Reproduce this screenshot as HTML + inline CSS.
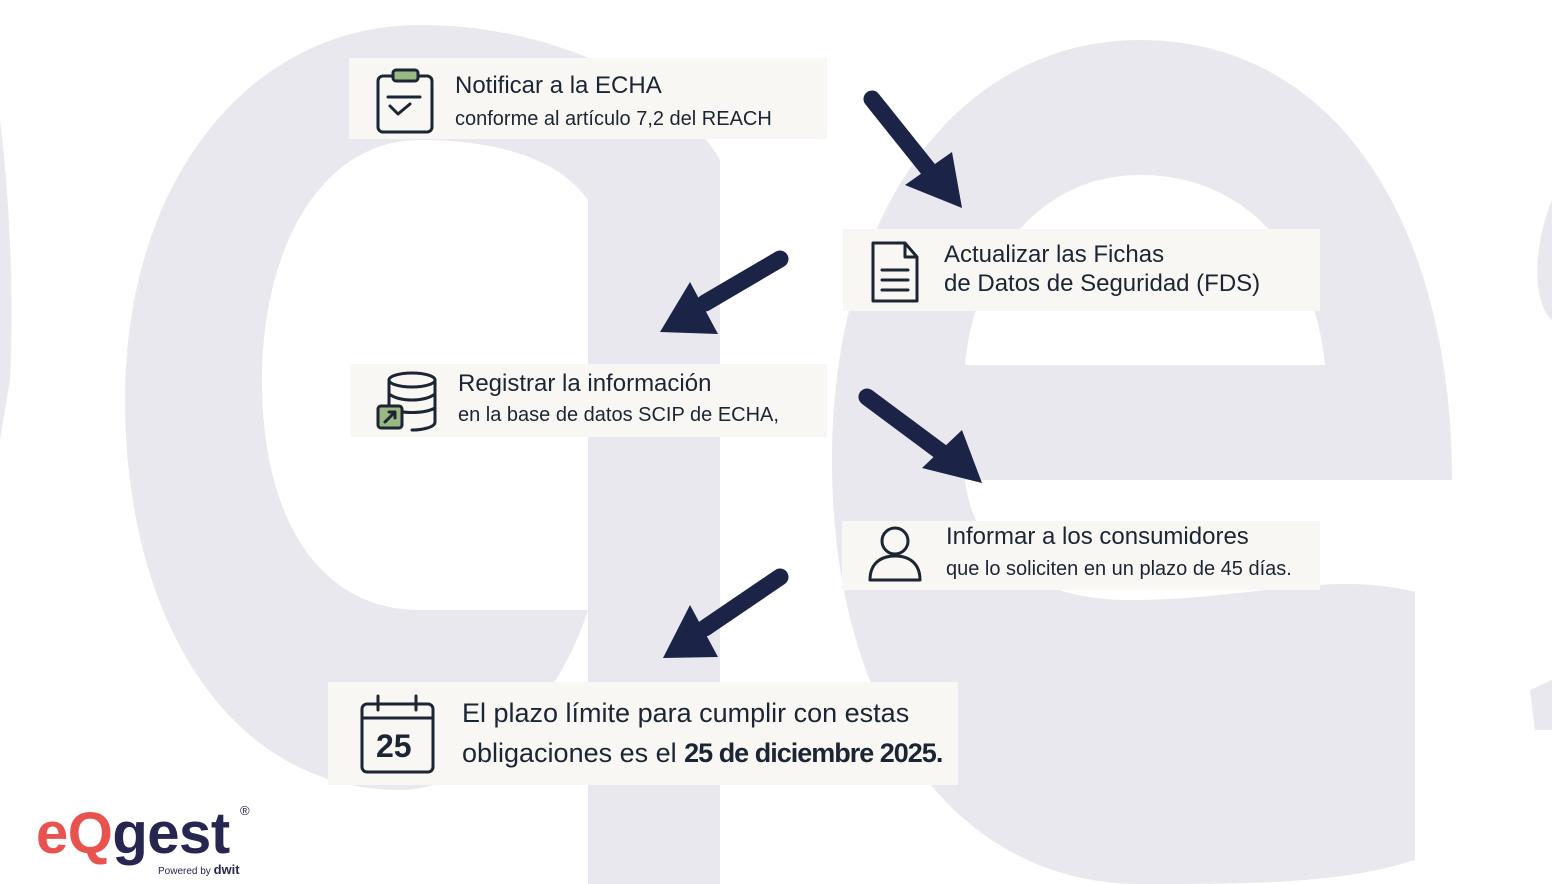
<!DOCTYPE html>
<html><head><meta charset="utf-8"><style>
body{margin:0;width:1552px;height:884px;overflow:hidden;background:#fff;font-family:"Liberation Sans",sans-serif;position:relative}
.box{position:absolute;background:#f8f7f3}
.t{position:absolute;color:#1c2533;white-space:nowrap}
svg{position:absolute;left:0;top:0}
</style></head><body>
<svg width="1552" height="884">
<g fill="#e9e8ee" fill-rule="evenodd">
<path d="M720 160 L720 884 L588 884 L588 610 C560 700 480 790 400 790 C230 790 125 620 125 400 C125 180 250 25 420 25 C560 25 680 90 720 160 Z M588 200 C560 160 500 140 420 140 C320 140 262 250 262 380 C262 520 320 610 420 610 L588 610 Z"/>
<path d="M1140 40 C1340 40 1452 230 1452 480 L965 480 C975 560 1040 600 1130 600 C1250 600 1330 570 1415 592 L1415 860 C1340 884 1250 884 1140 884 C960 884 832 720 832 460 C832 210 960 40 1140 40 Z M965 365 L1325 365 C1315 260 1250 175 1140 175 C1040 175 975 260 965 365 Z"/>
<path d="M0 120 C10 200 14 300 10 380 L0 440 Z"/>
<path d="M1552 200 C1535 240 1530 300 1552 320 Z M1530 690 L1552 680 L1552 730 L1535 730 Z"/>
</g>
<g stroke="#1b2447" stroke-width="17" stroke-linecap="round" fill="#1b2447">
<line x1="872" y1="99" x2="932" y2="174"/>
<line x1="780" y1="259" x2="705" y2="303"/>
<line x1="867" y1="397" x2="945" y2="455"/>
<line x1="780" y1="577" x2="705" y2="628"/>
</g>
<g fill="#1b2447">
<polygon points="905,185 952,152 962,208"/>
<polygon points="690,282 718,334 660,332"/>
<polygon points="922,468 962,430 982,483"/>
<polygon points="690,605 718,657 663,658"/>
</g>
</svg>
<div class="box" style="left:349px;top:58px;width:478px;height:81px"></div>
<div class="box" style="left:843px;top:229px;width:477px;height:82px"></div>
<div class="box" style="left:350px;top:364px;width:477px;height:73px"></div>
<div class="box" style="left:842px;top:521px;width:478px;height:69px"></div>
<div class="box" style="left:328px;top:682px;width:630px;height:103px"></div>
<svg width="1552" height="884" fill="none" stroke="#1c2533" stroke-width="3" stroke-linecap="round" stroke-linejoin="round">
<rect x="378" y="76" width="54" height="56" rx="5"/>
<rect x="393" y="70" width="25" height="11" rx="3" fill="#9ab982"/>
<line x1="388" y1="97" x2="420" y2="97"/>
<polyline points="390,106 398,114 410,104"/>
<path d="M873 243 L905 243 L917 257 L917 301 L873 301 Z M905 243 L905 257 L917 257"/>
<line x1="882" y1="270" x2="908" y2="270"/><line x1="882" y1="280" x2="908" y2="280"/><line x1="882" y1="290" x2="908" y2="290"/>
<ellipse cx="412" cy="380" rx="23" ry="7"/>
<path d="M389 380 L389 422 M435 380 L435 422 C435 428 420 430 412 430 M389 394 C400 402 424 402 435 394 M389 408 C400 414 424 414 435 408"/>
<rect x="378" y="406" width="24" height="22" rx="3" fill="#9ab982"/>
<path d="M385 422 L395 412 M389 412 L395 412 L395 418"/>
<circle cx="895" cy="541" r="13"/>
<path d="M870 580 C870 564 880 556 895 556 C910 556 920 564 920 580 Z"/>
<rect x="362" y="704" width="71" height="68" rx="5"/>
<line x1="362" y1="718" x2="433" y2="718"/><line x1="378" y1="696" x2="378" y2="710"/><line x1="416" y1="696" x2="416" y2="710"/>
</svg>
<div class="t" style="left:376px;top:728px;font-size:32px;font-weight:bold">25</div>
<div class="t" style="left:455px;top:72px;font-size:24px">Notificar a la ECHA</div>
<div class="t" style="left:455px;top:108px;font-size:20px">conforme al artículo 7,2 del REACH</div>
<div class="t" style="left:944px;top:240px;font-size:24px;line-height:29px">Actualizar las Fichas<br>de Datos de Seguridad (FDS)</div>
<div class="t" style="left:458px;top:370px;font-size:24px">Registrar la información</div>
<div class="t" style="left:458px;top:404px;font-size:20px">en la base de datos SCIP de ECHA,</div>
<div class="t" style="left:946px;top:523px;font-size:24px">Informar a los consumidores</div>
<div class="t" style="left:946px;top:558px;font-size:20px">que lo soliciten en un plazo de 45 días.</div>
<div class="t" style="left:462px;top:693px;font-size:27px;line-height:40px">El plazo límite para cumplir con estas<br>obligaciones es el <b style="letter-spacing:-1px">25 de diciembre 2025.</b></div>
<div class="t" style="left:36px;top:800px;font-size:58px;font-weight:bold;letter-spacing:-0.5px"><span style="color:#e8534f">eQ</span><span style="color:#262650">gest</span></div>
<div class="t" style="left:240px;top:803px;font-size:13px;color:#262650">®</div>
<div class="t" style="left:158px;top:862px;font-size:10px;color:#262650">Powered by <b style="font-size:13px">dwit</b></div>
</body></html>
